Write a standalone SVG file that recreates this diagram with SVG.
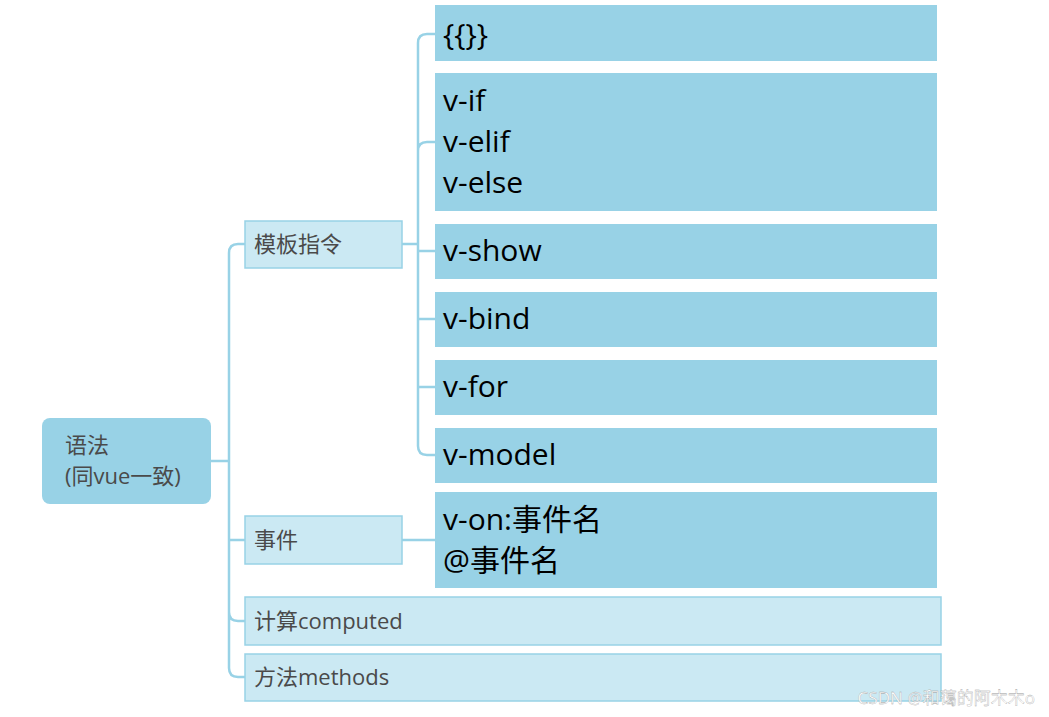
<svg xmlns="http://www.w3.org/2000/svg" width="1049" height="717" viewBox="0 0 1049 717">
<style>
.root{fill:#98d2e6}
.mid{fill:#cbe9f3;stroke:#98d2e6;stroke-width:1.5}
.leaf{fill:#98d2e6}
.c{fill:none;stroke:#98d2e6;stroke-width:2.5}
.t1{font-family:"Open Sans","Noto Sans","Noto Sans CJK SC",sans-serif;font-size:22px;fill:#4a4a4a}
.t2{font-family:"Open Sans","Noto Sans","Noto Sans CJK SC",sans-serif;font-size:30px;fill:#000}
</style>
<rect width="1049" height="717" fill="#fff"/>
<g id="connectors">
<path class="c" d="M211 461H229M245 244H238Q229 244 229 253V668Q229 677 238 677H245M229 540Q229 540 238 540H245M229 612Q229 621 238 621H245"/>
<path class="c" d="M402 244H418M435 34H427Q418 34 418 43V446Q418 455 427 455H435M418 151Q418 142 427 142H435M418 251H435M418 319H435M418 387H435M402 540H435"/>
</g>
<g id="root"><rect class="root" x="42" y="418" width="169" height="86" rx="8"/><text class="t1" x="65" y="453">语法</text><text class="t1" x="65" y="484">(同vue一致)</text></g>
<g id="n-template"><rect class="mid" x="245" y="221" width="157" height="47"/><text class="t1" x="254" y="252">模板指令</text></g>
<g id="n-event"><rect class="mid" x="245" y="516" width="157" height="48"/><text class="t1" x="254" y="548">事件</text></g>
<g id="n-computed"><rect class="mid" x="245" y="597" width="696" height="48"/><text class="t1" x="254" y="629">计算computed</text></g>
<g id="n-methods"><rect class="mid" x="245" y="654" width="696" height="47"/><text class="t1" x="254" y="685">方法methods</text></g>
<g id="l-mustache"><rect class="leaf" x="435" y="5" width="502" height="56"/><text class="t2" x="443" y="45">{{}}</text></g>
<g id="l-if"><rect class="leaf" x="435" y="73" width="502" height="138"/><text class="t2" x="443" y="111">v-if</text><text class="t2" x="443" y="152">v-elif</text><text class="t2" x="443" y="193">v-else</text></g>
<g id="l-show"><rect class="leaf" x="435" y="224" width="502" height="55"/><text class="t2" x="443" y="261">v-show</text></g>
<g id="l-bind"><rect class="leaf" x="435" y="292" width="502" height="55"/><text class="t2" x="443" y="329">v-bind</text></g>
<g id="l-for"><rect class="leaf" x="435" y="360" width="502" height="55"/><text class="t2" x="443" y="397">v-for</text></g>
<g id="l-model"><rect class="leaf" x="435" y="428" width="502" height="55"/><text class="t2" x="443" y="465">v-model</text></g>
<g id="l-on"><rect class="leaf" x="435" y="492" width="502" height="96"/><text class="t2" x="443" y="530">v-on:事件名</text><text class="t2" x="443" y="571">@事件名</text></g>
<text x="1035" y="704" text-anchor="end" font-family="'Noto Sans','Noto Sans CJK SC',sans-serif" font-size="17" fill="#fff" stroke="#999" stroke-width="0.3">CSDN @和蔼的阿木木o</text>
</svg>
